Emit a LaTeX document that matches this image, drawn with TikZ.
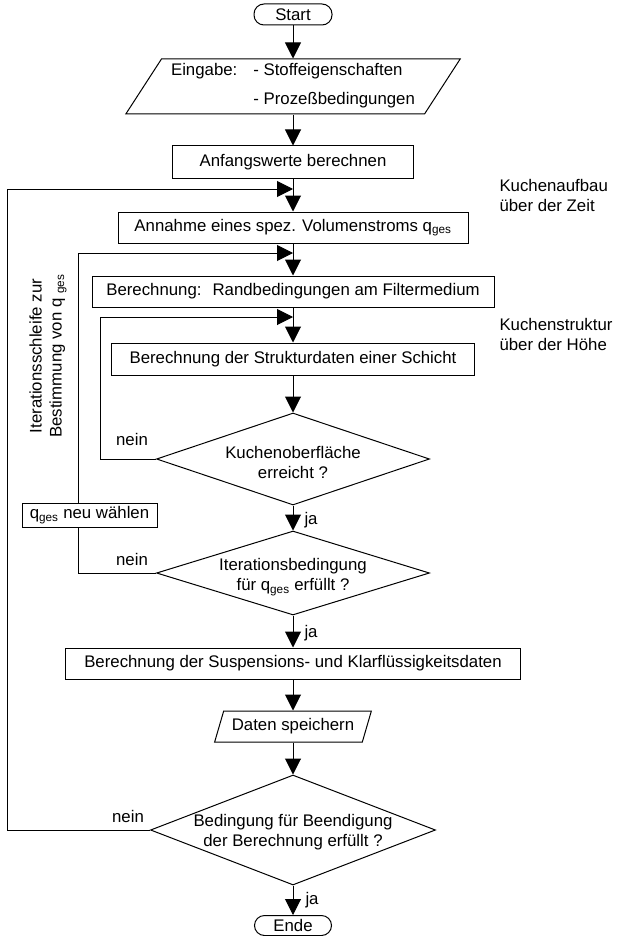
\documentclass[tikz,border=0pt]{standalone}
\usepackage{fontspec}
\setmainfont{Liberation Sans}
\usetikzlibrary{shapes.geometric,arrows.meta}

\begin{document}
\begin{tikzpicture}[x=1pt,y=-1pt,
  font=\fontsize{16.8}{20}\selectfont,
  line width=1pt,
  box/.style={draw, rectangle, inner sep=0pt},
  pille/.style={draw, rectangle, rounded corners=10pt, minimum width=78pt, minimum height=21pt, inner sep=0pt},
  ea/.style={draw, trapezium, trapezium stretches=true, inner sep=0pt},
  raute/.style={draw, diamond, inner sep=0pt},
  beschr/.style={inner sep=0pt},
  pfeil/.style={-{Triangle[width=16pt,length=16pt]}}]
      \useasboundingbox (0,0) rectangle (616,936);
      % Hauptstrang
      \node[pille] (start) at (293,14.5) {Start};
      \node[ea, trapezium left angle=56, trapezium right angle=124, minimum width=335pt, minimum height=55pt] (eingabe) at (293,86.5)
        {\begin{tabular}{@{}l@{\hspace{16pt}}l@{}}Eingabe: & - Stoffeigenschaften\\[9pt] & - Prozeßbedingungen\end{tabular}\hspace{14pt}};
      \node[box, minimum width=241pt, minimum height=33pt] (anfang) at (293,162.5) {Anfangswerte berechnen};
      \coordinate (j1) at (293,189);
      \node[box, minimum width=350pt, minimum height=31pt] (annahme) at (293,227.5) {Annahme eines spez. Volumenstroms q\textsubscript{ges}};
      \coordinate (j2) at (293,253);
      \node[box, minimum width=402pt, minimum height=31pt] (randbed) at (293,291.5) {Berechnung:\hspace{11pt}Randbedingungen am Filtermedium};
      \coordinate (j3) at (293,317);
      \node[box, minimum width=363pt, minimum height=32pt] (struktur) at (293,359) {Berechnung der Strukturdaten einer Schicht};
      \node[raute, minimum width=273pt, minimum height=92pt] (obfl) at (293,459) {};
      \node[beschr, align=center] (obfltext) at (293,462) {Kuchenoberfläche\\erreicht ?};
      \node[raute, minimum width=273pt, minimum height=84pt] (iter) at (293,573) {};
      \node[beschr, align=center] (itertext) at (293,577) {Iterationsbedingung\\für q\textsubscript{ges} erfüllt ?};
      \node[box, minimum width=135pt, minimum height=24pt] (qneu) at (89.5,515) {q\textsubscript{ges} neu wählen};
      \node[box, minimum width=455pt, minimum height=31pt] (susp) at (293,663.5) {Berechnung der Suspensions- und Klarflüssigkeitsdaten};
      \node[ea, trapezium left angle=63, trapezium right angle=117, minimum width=157pt, minimum height=31pt] (speichern) at (293,726.5) {Daten speichern};
      \node[raute, minimum width=285pt, minimum height=110pt] (beend) at (293,830) {};
      \node[beschr, align=center] (beendtext) at (293,832) {Bedingung für Beendigung\\der Berechnung erfüllt ?};
      \node[pille, minimum width=77pt, minimum height=20pt] (ende) at (293,925.5) {Ende};
      % Beschriftungen
      \node[beschr] (nein1) at (132,439) {nein};
      \node[beschr] (nein2) at (132,559) {nein};
      \node[beschr] (nein3) at (128,816) {nein};
      \node[beschr, anchor=west] (ja1) at (304,520) {ja};
      \node[beschr, anchor=west] (ja2) at (304,633) {ja};
      \node[beschr, anchor=west] (ja3) at (305,900) {ja};
      \node[beschr, anchor=west, align=left] (zeit) at (499,195) {Kuchenaufbau\\über der Zeit};
      \node[beschr, anchor=west, align=left] (hoehe) at (499,334) {Kuchenstruktur\\über der Höhe};
      \node[beschr, rotate=90, align=center] (schleife) at (48,356) {Iterationsschleife zur\\Bestimmung von q \textsubscript{ges}};
      % Pfeile
      \draw[pfeil] (start) -- (eingabe);
      \draw[pfeil] (eingabe) -- (anfang);
      \draw[pfeil] (anfang) -- (annahme);
      \draw[pfeil] (annahme) -- (randbed);
      \draw[pfeil] (randbed) -- (struktur);
      \draw[pfeil] (struktur) -- (obfl);
      \draw[pfeil] (obfl) -- (iter);
      \draw[pfeil] (iter) -- (susp);
      \draw[pfeil] (susp) -- (speichern);
      \draw[pfeil] (speichern) -- (beend);
      \draw[pfeil] (beend) -- (ende);
      % Schleifen
      \coordinate (lo1) at (7,189);
      \coordinate (lo2) at (78,253);
      \coordinate (lo3) at (100,317);
      \draw[pfeil] (beend.west) -| (lo1) -- (j1);
      \draw (iter.west) -| (qneu.south -| lo2);
      \draw[pfeil] (qneu.north -| lo2) -- (lo2) -- (j2);
      \draw[pfeil] (obfl.west) -| (lo3) -- (j3);
\end{tikzpicture}
\end{document}
